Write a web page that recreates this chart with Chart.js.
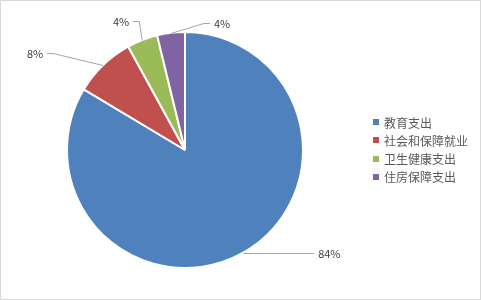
<!DOCTYPE html>
<html>
<head>
<meta charset="utf-8">
<script src="https://cdn.jsdelivr.net/npm/chart.js@4"></script>
<style>
  html, body { margin: 0; padding: 0; background: #fff; }
  #wrap { width: 481px; height: 300px; position: relative; }
</style>
</head>
<body>
<div id="wrap"><canvas id="chart" width="481" height="300"></canvas></div>
<script>
// data
const categories = ['教育支出', '社会和保障就业', '卫生健康支出', '住房保障支出'];
const shares = [83.6, 8.4, 4.2, 3.8];
const sliceColors = ['#4F81BD', '#C0504D', '#9BBB59', '#8064A2'];

// leader line layout per slice: elbow offset from the arc edge, then a short horizontal run
const leaderLayout = [
    { dx: 0, dy: 0, run: 71, side: 1 },
    { dx: -50, dy: -12, run: 6, side: -1 },
    { dx: -3, dy: -19, run: 6, side: -1 },
    { dx: 33, dy: -10, run: 6, side: 1 }
];

const FONT = '"Noto Sans CJK SC", "Noto Sans", sans-serif';

const frame = {
    id: 'frame',
    beforeDraw(chart) {
        const ctx = chart.ctx;
        ctx.save();
        ctx.fillStyle = '#fff';
        ctx.fillRect(0, 0, chart.width, chart.height);
        ctx.strokeStyle = '#d9d9d9';
        ctx.lineWidth = 1;
        ctx.strokeRect(0.5, 0.5, chart.width - 1, chart.height - 1);
        ctx.restore();
    }
};

const outsideLabels = {
    id: 'outsideLabels',
    afterDatasetsDraw(chart) {
        const ctx = chart.ctx;
        const meta = chart.getDatasetMeta(0);
        const values = chart.data.datasets[0].data;
        const total = values.reduce((a, b) => a + b, 0);
        ctx.save();
        ctx.font = '11px ' + FONT;
        ctx.textBaseline = 'middle';
        meta.data.forEach((arc, i) => {
            const mid = (arc.startAngle + arc.endAngle) / 2;
            const ax = arc.x + Math.cos(mid) * arc.outerRadius;
            const ay = arc.y + Math.sin(mid) * arc.outerRadius;
            const lay = leaderLayout[i];
            const ex = ax + lay.dx, ey = ay + lay.dy;
            const tx = ex + lay.side * lay.run;
            ctx.strokeStyle = '#a6a6a6';
            ctx.lineWidth = 1;
            ctx.beginPath();
            ctx.moveTo(ax, Math.round(ay) + 0.5);
            ctx.lineTo(ex, Math.round(ey) + 0.5);
            ctx.lineTo(tx, Math.round(ey) + 0.5);
            ctx.stroke();
            ctx.fillStyle = '#404040';
            ctx.textAlign = lay.side > 0 ? 'left' : 'right';
            ctx.fillText(Math.round(values[i] / total * 100) + '%', tx + lay.side * 4, ey + 1);
        });
        ctx.restore();
    }
};

const sideLegend = {
    id: 'sideLegend',
    afterDraw(chart) {
        const ctx = chart.ctx;
        ctx.save();
        ctx.font = '12px ' + FONT;
        ctx.textBaseline = 'middle';
        ctx.textAlign = 'left';
        chart.data.labels.forEach((label, i) => {
            const y = 122 + i * 18.3;
            ctx.fillStyle = chart.data.datasets[0].backgroundColor[i];
            ctx.fillRect(373, Math.round(y) - 3, 6, 6);
            ctx.fillStyle = '#595959';
            ctx.fillText(label, 384, y + 1);
        });
        ctx.restore();
    }
};

new Chart(document.getElementById('chart'), {
    type: 'pie',
    data: {
        labels: categories,
        datasets: [{
            data: shares,
            backgroundColor: sliceColors,
            borderColor: '#ffffff',
            borderWidth: 2,
            hoverOffset: 0
        }]
    },
    options: {
        responsive: false,
        animation: false,
        layout: {
            padding: { left: 66, right: 177, top: 31, bottom: 31 }
        },
        plugins: {
            legend: { display: false },
            tooltip: { enabled: false }
        }
    },
    plugins: [frame, outsideLabels, sideLegend]
});
</script>
</body>
</html>
